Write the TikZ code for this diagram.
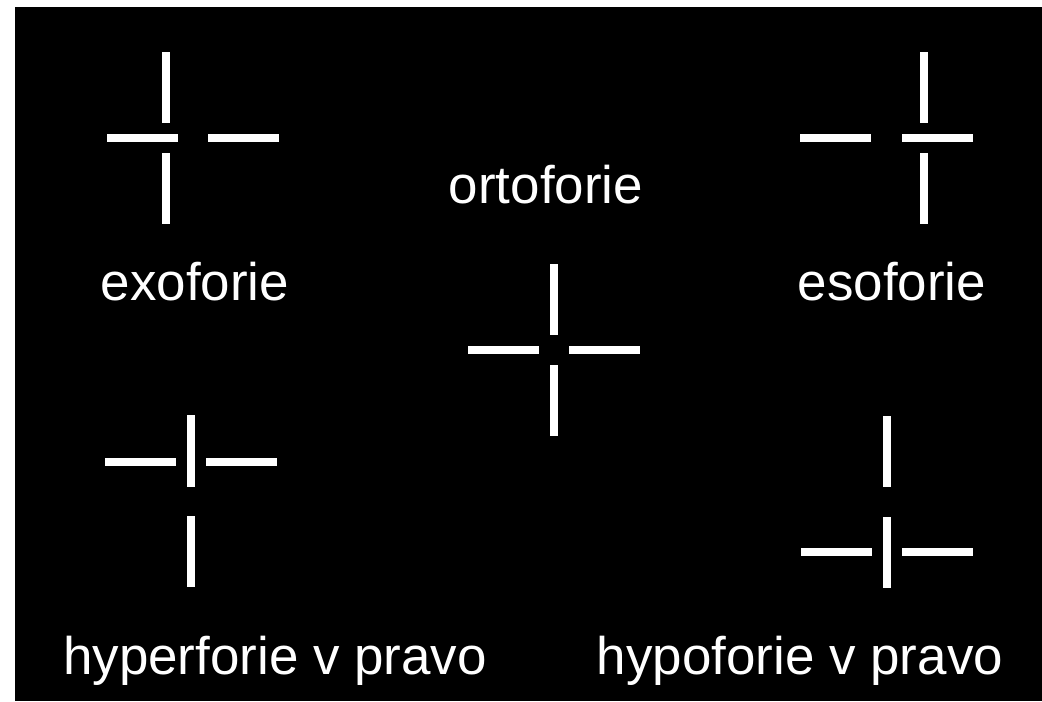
\documentclass[tikz,border=0pt]{standalone}
\usepackage{fontspec}
\setmainfont{Liberation Sans}
\begin{document}
\begin{tikzpicture}[x=0.75pt,y=-0.75pt,
  barfill/.style={fill=white},
  lbl/.style={text=white,anchor=base,inner sep=0pt,font=\fontsize{39.7}{48}\selectfont}]
\useasboundingbox (0,0) rectangle (1042,701);
\fill[white] (0,0) rectangle (1042,701);
\fill[black] (15,7) rectangle (1042,701);
% exoforie
\fill[barfill] (162,52) rectangle (170,123);
\fill[barfill] (162,153) rectangle (170,224);
\fill[barfill] (107,134) rectangle (178,142);
\fill[barfill] (208,134) rectangle (279,142);
% esoforie
\fill[barfill] (920,52) rectangle (928,123);
\fill[barfill] (920,153) rectangle (928,224);
\fill[barfill] (800,134) rectangle (871,142);
\fill[barfill] (902,134) rectangle (973,142);
% ortoforie
\fill[barfill] (550,264) rectangle (558,335);
\fill[barfill] (550,365) rectangle (558,436);
\fill[barfill] (468,346) rectangle (539,354);
\fill[barfill] (569,346) rectangle (640,354);
% hyperforie
\fill[barfill] (187,415) rectangle (195,487);
\fill[barfill] (187,516) rectangle (195,587);
\fill[barfill] (105,458) rectangle (176,466);
\fill[barfill] (206,458) rectangle (277,466);
% hypoforie
\fill[barfill] (883,416) rectangle (891,487);
\fill[barfill] (883,517) rectangle (891,588);
\fill[barfill] (801,548) rectangle (872,556);
\fill[barfill] (902,548) rectangle (973,556);
% labels
\node[lbl] (orto) at (546,203) {ortoforie};
\node[lbl] (exo) at (195,300) {exoforie};
\node[lbl] (eso) at (892,300) {esoforie};
\node[lbl] (hyper) at (275,674) {hyperforie v pravo};
\node[lbl] (hypo) at (800,674) {hypoforie v pravo};
\end{tikzpicture}
\end{document}
